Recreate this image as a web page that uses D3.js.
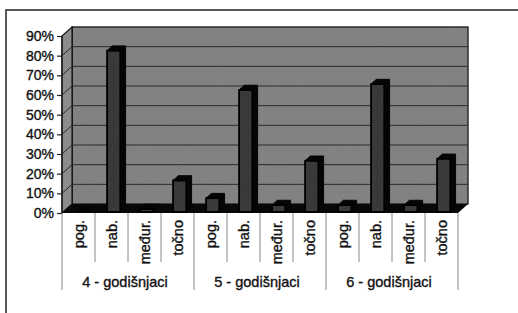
<!DOCTYPE html>
<html>
<head>
<meta charset="utf-8">
<script src="https://cdn.jsdelivr.net/npm/d3@7"></script>
<style>
  body { margin: 0; background: #fff; }
  svg { display: block; font-family: "Liberation Sans", Arial, sans-serif; }
  text { stroke: #111; stroke-width: 0.35px; }
</style>
</head>
<body>
<svg id="chart" width="518" height="313"></svg>
<script>
// data
const groups = ['4 - godišnjaci', '5 - godišnjaci', '6 - godišnjaci']
const answers = ['pog.', 'nab.', 'međur.', 'točno']
const values4 = [0, 0.82, 0.015, 0.16]
const values5 = [0.07, 0.62, 0.035, 0.26]
const values6 = [0.035, 0.65, 0.035, 0.27]
const yTicks = [0, 0.1, 0.2, 0.3, 0.4, 0.5, 0.6, 0.7, 0.8, 0.9]

const rows = []
;[values4, values5, values6].forEach((vals, g) => {
  vals.forEach((v, i) => rows.push({ key: g + '_' + i, group: groups[g], label: answers[i], value: v }))
})

const svg = d3.select('#chart')
const dx = 10, dy = -9 // 3d depth offset

const x = d3.scaleBand().domain(rows.map(d => d.key)).range([62, 458]).padding(0)
const y = d3.scaleLinear().domain([0, 0.9]).range([213, 36])

// grain filter for the scanned look
const defs = svg.append('defs')
const f = defs.append('filter').attr('id', 'grain')
f.append('feTurbulence').attr('type', 'fractalNoise').attr('baseFrequency', 0.9).attr('numOctaves', 2).attr('result', 'n')
f.append('feColorMatrix').attr('in', 'n').attr('type', 'matrix')
  .attr('values', '0 0 0 0 0  0 0 0 0 0  0 0 0 0 0  0 0 0 0.18 0')
  .attr('result', 'a')
f.append('feComposite').attr('in', 'a').attr('in2', 'SourceGraphic').attr('operator', 'in').attr('result', 'b')
f.append('feMerge').call(m => { m.append('feMergeNode').attr('in', 'SourceGraphic'); m.append('feMergeNode').attr('in', 'b') })

// outer frame
svg.append('rect').attr('x', 6).attr('y', 10).attr('width', 530).attr('height', 320)
  .attr('fill', 'none').attr('stroke', '#222').attr('stroke-width', 1.5)

const x0 = x.range()[0], x1 = x.range()[1]
const yTop = y(0.9), yBot = y(0)

// back wall and side wall
svg.append('rect').attr('x', x0 + dx).attr('y', yTop + dy).attr('width', x1 - x0).attr('height', yBot - yTop)
  .attr('fill', '#888').attr('stroke', '#1a1a1a').attr('stroke-width', 1.2).attr('filter', 'url(#grain)')
svg.append('path')
  .attr('d', `M${x0},${yBot}L${x0},${yTop}L${x0 + dx},${yTop + dy}L${x0 + dx},${yBot + dy}Z`)
  .attr('fill', '#939393').attr('stroke', '#1a1a1a').attr('stroke-width', 1.2).attr('filter', 'url(#grain)')

// gridlines
yTicks.slice(1, -1).forEach(t => {
  svg.append('line').attr('x1', x0 + dx).attr('x2', x1 + dx).attr('y1', y(t) + dy).attr('y2', y(t) + dy)
    .attr('stroke', '#2a2a2a').attr('stroke-width', 1)
  svg.append('line').attr('x1', x0).attr('x2', x0 + dx).attr('y1', y(t)).attr('y2', y(t) + dy)
    .attr('stroke', '#2a2a2a').attr('stroke-width', 1)
})

// floor
svg.append('path')
  .attr('d', `M${x0},${yBot}L${x1},${yBot}L${x1 + dx},${yBot + dy}L${x0 + dx},${yBot + dy}Z`)
  .attr('fill', '#080808')

// bars
const fr = 0.12, bk = 0.65
const bw = x.bandwidth() * 0.4
const bars = svg.append('g').selectAll('g').data(rows).join('g')
bars.each(function (d) {
  const g = d3.select(this)
  const lx = x(d.key) + x.bandwidth() * 0.33 + dx * fr
  const rx = lx + bw
  const by = yBot + dy * fr
  const ty = y(d.value) + dy * fr
  const ox = dx * (bk - fr), oy = dy * (bk - fr)
  // top + side in black
  g.append('path')
    .attr('d', `M${lx},${ty}L${lx + ox},${ty + oy}L${rx + ox},${ty + oy}L${rx + ox},${by + oy}L${rx},${by}L${rx},${ty}Z`)
    .attr('fill', '#050505').attr('stroke', '#050505').attr('stroke-width', 1)
  g.append('rect').attr('x', lx).attr('y', ty).attr('width', bw).attr('height', Math.max(0, by - ty))
    .attr('fill', '#3c3c3c').attr('stroke', '#050505').attr('stroke-width', 1.8).attr('filter', 'url(#grain)')
})

// y axis
const yAxis = d3.axisLeft(y).tickValues(yTicks).tickFormat(d3.format('.0%')).tickSize(5).tickPadding(3)
const ya = svg.append('g').attr('transform', `translate(${x0},0)`).call(yAxis)
ya.select('.domain').remove()
ya.selectAll('line').attr('stroke', '#222').attr('stroke-width', 1.2)
ya.selectAll('text').attr('font-size', 14).attr('fill', '#111')
  .attr('font-family', '"Liberation Sans", Arial, sans-serif')
svg.append('line').attr('x1', x0).attr('x2', x0).attr('y1', yTop).attr('y2', yBot).attr('stroke', '#1a1a1a').attr('stroke-width', 1.2)

// category separators and labels
const seps = rows.map(d => x(d.key)).concat([x1])
seps.forEach((sx, i) => {
  const long = i % 4 === 0
  svg.append('line').attr('x1', sx).attr('x2', sx).attr('y1', yBot).attr('y2', long ? 290 : 262)
    .attr('stroke', '#888').attr('stroke-width', 1)
})
svg.append('g').selectAll('text').data(rows).join('text')
  .attr('transform', d => `translate(${x(d.key) + x.bandwidth() / 2 + 5},220) rotate(-90)`)
  .attr('text-anchor', 'end').attr('font-size', 14.5).attr('fill', '#111')
  .text(d => d.label)
svg.append('g').selectAll('text').data(groups).join('text')
  .attr('x', (d, i) => (seps[i * 4] + seps[i * 4 + 4]) / 2 - 3)
  .attr('y', 287).attr('text-anchor', 'middle').attr('font-size', 14.5).attr('fill', '#111')
  .text(d => d)
</script>
</body>
</html>
